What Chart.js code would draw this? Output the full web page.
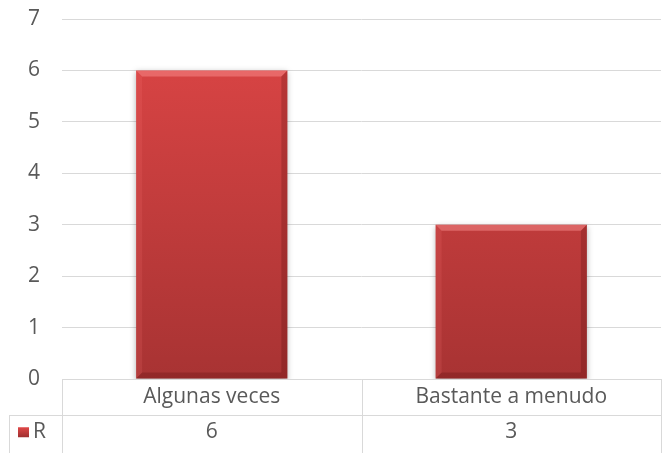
<!DOCTYPE html>
<html>
<head>
<meta charset="utf-8">
<script src="https://cdn.jsdelivr.net/npm/chart.js@4/dist/chart.umd.min.js"></script>
<style>
  html, body { margin: 0; padding: 0; background: #fff; }
  #wrap { width: 665px; height: 453px; }
</style>
</head>
<body>
<div id="wrap"><canvas id="chart" width="665" height="453"></canvas></div>
<script>
var categories = ['Algunas veces', 'Bastante a menudo'];
var seriesName = 'R';
var values = [6, 3];
var yTicks = [0, 1, 2, 3, 4, 5, 6, 7];

var FONT = '"Open Sans", "Liberation Sans", sans-serif';
var TEXT = '#595959';
var LINE = '#d9d9d9';
var FS = 21;

function barFill(context) {
    var chart = context.chart;
    var area = chart.chartArea;
    if (!area) return '#d04040';
    var g = chart.ctx.createLinearGradient(0, area.top, 0, area.bottom);
    g.addColorStop(0, '#de4646');
    g.addColorStop(1, '#a83333');
    return g;
}

// soft shadow + bevel edges on the bars
var barLook = {
    id: 'barLook',
    beforeDatasetsDraw: function(chart) {
        var ctx = chart.ctx;
        ctx.save();
        ctx.shadowColor = 'rgba(0,0,0,0.3)';
        ctx.shadowBlur = 6;
        ctx.shadowOffsetY = 2;
    },
    afterDatasetsDraw: function(chart) {
        var ctx = chart.ctx;
        ctx.restore();
        var meta = chart.getDatasetMeta(0);
        meta.data.forEach(function(bar) {
            var l = bar.x - bar.width / 2, r = bar.x + bar.width / 2;
            var t = bar.y, b = bar.base, e = 6;
            ctx.save();
            ctx.fillStyle = 'rgba(255,150,150,0.45)';
            ctx.beginPath();
            ctx.moveTo(l, t); ctx.lineTo(r, t); ctx.lineTo(r - e, t + e); ctx.lineTo(l + e, t + e);
            ctx.closePath(); ctx.fill();
            ctx.fillStyle = 'rgba(255,120,120,0.15)';
            ctx.beginPath();
            ctx.moveTo(l, t); ctx.lineTo(l + e, t + e); ctx.lineTo(l + e, b - e); ctx.lineTo(l, b);
            ctx.closePath(); ctx.fill();
            ctx.fillStyle = 'rgba(60,0,0,0.2)';
            ctx.beginPath();
            ctx.moveTo(r, t); ctx.lineTo(r - e, t + e); ctx.lineTo(r - e, b - e); ctx.lineTo(r, b);
            ctx.closePath(); ctx.fill();
            ctx.beginPath();
            ctx.moveTo(l, b); ctx.lineTo(l + e, b - e); ctx.lineTo(r - e, b - e); ctx.lineTo(r, b);
            ctx.closePath(); ctx.fill();
            ctx.restore();
        });
    }
};

// data table under the plot
var dataTable = {
    id: 'dataTable',
    afterDraw: function(chart) {
        var ctx = chart.ctx;
        var area = chart.chartArea;
        var x = chart.scales.x;
        var top = area.bottom;
        var rowH = 35.5;
        var mid = top + rowH;
        var bottom = chart.height + 2;
        var keyLeft = 9;
        var half = (x.getPixelForTick(1) - x.getPixelForTick(0)) / 2;

        ctx.save();
        ctx.strokeStyle = LINE;
        ctx.lineWidth = 1;
        ctx.beginPath();
        ctx.moveTo(area.left, Math.round(top) + 0.5); ctx.lineTo(area.right, Math.round(top) + 0.5);
        ctx.moveTo(keyLeft, Math.round(mid) + 0.5); ctx.lineTo(area.right, Math.round(mid) + 0.5);
        ctx.moveTo(keyLeft + 0.5, Math.round(mid)); ctx.lineTo(keyLeft + 0.5, bottom);
        ctx.moveTo(Math.round(area.left) + 0.5, top); ctx.lineTo(Math.round(area.left) + 0.5, bottom);
        categories.forEach(function(c, i) {
            var px = Math.round(x.getPixelForTick(i) + half) + 0.5;
            ctx.moveTo(px, top); ctx.lineTo(px, bottom);
        });
        ctx.stroke();

        ctx.fillStyle = TEXT;
        ctx.font = FS + 'px ' + FONT;
        ctx.textAlign = 'center';
        ctx.textBaseline = 'middle';
        categories.forEach(function(c, i) {
            var cx = x.getPixelForTick(i);
            ctx.fillText(c, cx, top + rowH / 2);
            ctx.fillText(String(values[i]), cx, mid + rowH / 2);
        });

        // legend key
        var ky = mid + rowH / 2;
        var g = ctx.createLinearGradient(0, ky - 5, 0, ky + 5);
        g.addColorStop(0, '#e04848');
        g.addColorStop(1, '#9e2f2f');
        ctx.fillStyle = g;
        ctx.fillRect(18, ky - 5, 11, 10);
        ctx.fillStyle = TEXT;
        ctx.textAlign = 'left';
        ctx.fillText(seriesName, 33, ky);
        ctx.restore();
    }
};

new Chart(document.getElementById('chart'), {
    type: 'bar',
    data: {
        labels: categories,
        datasets: [{
            label: seriesName,
            data: values,
            backgroundColor: barFill,
            borderWidth: 0,
            categoryPercentage: 1,
            barPercentage: 0.505
        }]
    },
    options: {
        responsive: false,
        animation: false,
        layout: { padding: { top: 19, right: 4, left: 0, bottom: 0 } },
        plugins: {
            legend: { display: false },
            tooltip: { enabled: false }
        },
        scales: {
            x: {
                ticks: { display: false },
                grid: { display: false },
                border: { display: false },
                afterFit: function(scale) { scale.height = 74; }
            },
            y: {
                min: yTicks[0],
                max: yTicks[yTicks.length - 1],
                afterBuildTicks: function(scale) {
                    scale.ticks = yTicks.map(function(v) { return { value: v }; });
                },
                ticks: {
                    color: TEXT,
                    font: { family: FONT, size: FS },
                    padding: 22
                },
                grid: { color: LINE, drawTicks: false },
                border: { display: false },
                afterFit: function(scale) {
                    scale.width = 62;
                    scale.paddingTop = 0;
                    scale.paddingBottom = 0;
                }
            }
        }
    },
    plugins: [barLook, dataTable]
});
</script>
</body>
</html>
